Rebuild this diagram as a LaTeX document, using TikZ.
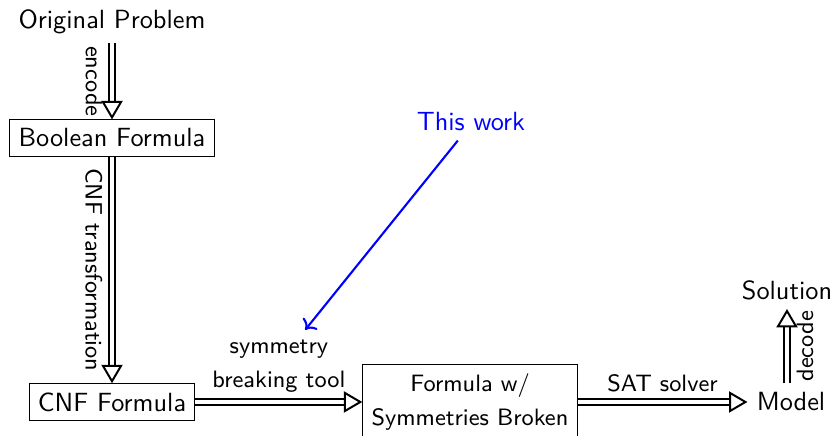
\documentclass[tikz,border=0pt]{standalone}
\usepackage{tikz}
\usetikzlibrary{arrows.meta, positioning}
\renewcommand{\familydefault}{\sfdefault}

\begin{document}
\begin{tikzpicture}[x=0.38pt, y=0.38pt,
    dblarrow/.style={double, line width=0.75pt, double distance=1.6pt, -{Triangle[open, length=7pt, width=8pt]}},
    steplabel/.style={font=\small}]
    \useasboundingbox (0,0) rectangle (836,436);

    \node (orig) at (112,414) {Original Problem};
    \node[draw] (bool) at (112,298) {Boolean Formula};
    \node[draw] (cnf) at (112,34) {CNF Formula};
    \node[draw, font=\small, align=center, minimum width=79pt, minimum height=26.5pt] (broken) at (470,34) {Formula w/\\[2pt] Symmetries Broken};
    \node (model) at (791,34) {Model};
    \node (sol) at (787,146) {Solution};
    \node[blue] (thiswork) at (471,314) {This work};

    \draw[dblarrow] (orig) -- node[steplabel, midway, anchor=north, rotate=-90] {encode} (bool);
    \draw[dblarrow] (bool) -- node[steplabel, midway, anchor=north, rotate=-90] {CNF transformation} (cnf);
    \draw[dblarrow] (cnf) -- node[steplabel, midway, above, align=center] (tool) {symmetry\\[2pt] breaking tool} (broken);
    \draw[dblarrow] (broken) -- node[steplabel, midway, above] {SAT solver} (model);
    \draw[dblarrow] (model.north -| sol) -- node[steplabel, midway, anchor=north, rotate=90] {decode} (sol);

    \draw[->, blue, line width=0.8pt] ([xshift=-5pt]thiswork.south) -- ([xshift=10pt]tool.north);
\end{tikzpicture}
\end{document}
